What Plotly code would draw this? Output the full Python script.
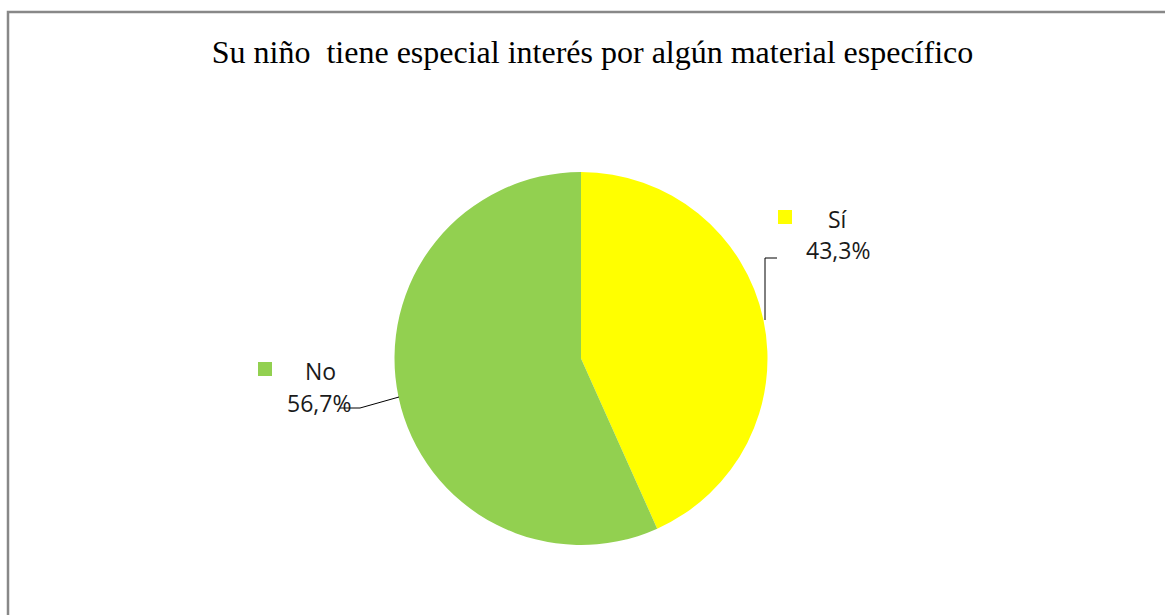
import plotly.graph_objects as go

W, H = 1165, 615

labels = ["Sí", "No"]
values = [43.3, 56.7]
colors = ["#FFFF00", "#92D050"]
title = "Su niño  tiene especial interés por algún material específico"


def px(x):
    return x / W


def py(y):
    return 1 - y / H


cx, cy, r = 581, 358.5, 186.5

fig = go.Figure(go.Pie(
    labels=labels,
    values=values,
    marker=dict(colors=colors, line=dict(width=0)),
    sort=False,
    direction="clockwise",
    rotation=0,
    textinfo="none",
    hoverinfo="label+percent",
    showlegend=False,
    domain=dict(x=[px(cx - r), px(cx + r)], y=[py(cy + r), py(cy - r)]),
))

# label positions (name / percent / marker square / leader line)
label_pos = {
    "Sí": dict(name=(838, 219), pct=(838, 250), sq=(778, 210),
               line=[(765, 320), (765, 258), (777, 258)]),
    "No": dict(name=(320, 371), pct=(319, 403), sq=(258, 362),
               line=[(399, 397), (360, 408), (340, 408)]),
}

shapes = [
    dict(type="rect", xref="paper", yref="paper",
         x0=px(8), x1=px(W + 10), y0=py(H + 10), y1=py(12),
         line=dict(color="#888888", width=2.5), fillcolor="rgba(0,0,0,0)"),
]
annotations = []
font = dict(family="Open Sans, Noto Sans, sans-serif", size=23, color="#1a1a1a")
for lab, val, col in zip(labels, values, colors):
    p = label_pos[lab]
    annotations.append(dict(x=px(p["name"][0]), y=py(p["name"][1]), xref="paper", yref="paper",
                            text=lab, showarrow=False, font=font, xanchor="center", yanchor="middle"))
    annotations.append(dict(x=px(p["pct"][0]), y=py(p["pct"][1]), xref="paper", yref="paper",
                            text=f"{val:.1f}".replace(".", ",") + "%", showarrow=False, font=font,
                            xanchor="center", yanchor="middle"))
    sx, sy = p["sq"]
    shapes.append(dict(type="rect", xref="paper", yref="paper",
                       x0=px(sx), x1=px(sx + 14), y0=py(sy + 14), y1=py(sy),
                       line=dict(width=0), fillcolor=col))
    pts = p["line"]
    path = "M " + " L ".join(f"{px(x)},{py(y)}" for x, y in pts)
    shapes.append(dict(type="path", xref="paper", yref="paper", path=path,
                       line=dict(color="#000000", width=1)))

fig.update_layout(
    width=W, height=H,
    margin=dict(l=0, r=0, t=0, b=0),
    paper_bgcolor="white",
    plot_bgcolor="white",
    title=dict(text=title, x=px(592.5), xanchor="center", y=py(52), yanchor="middle",
               font=dict(family="Liberation Serif, Times New Roman, serif", size=32, color="black")),
    shapes=shapes,
    annotations=annotations,
)

fig.write_html("out.html", config={"displayModeBar": False},
               post_script="document.body.style.margin='0';document.body.style.overflow='hidden';")
